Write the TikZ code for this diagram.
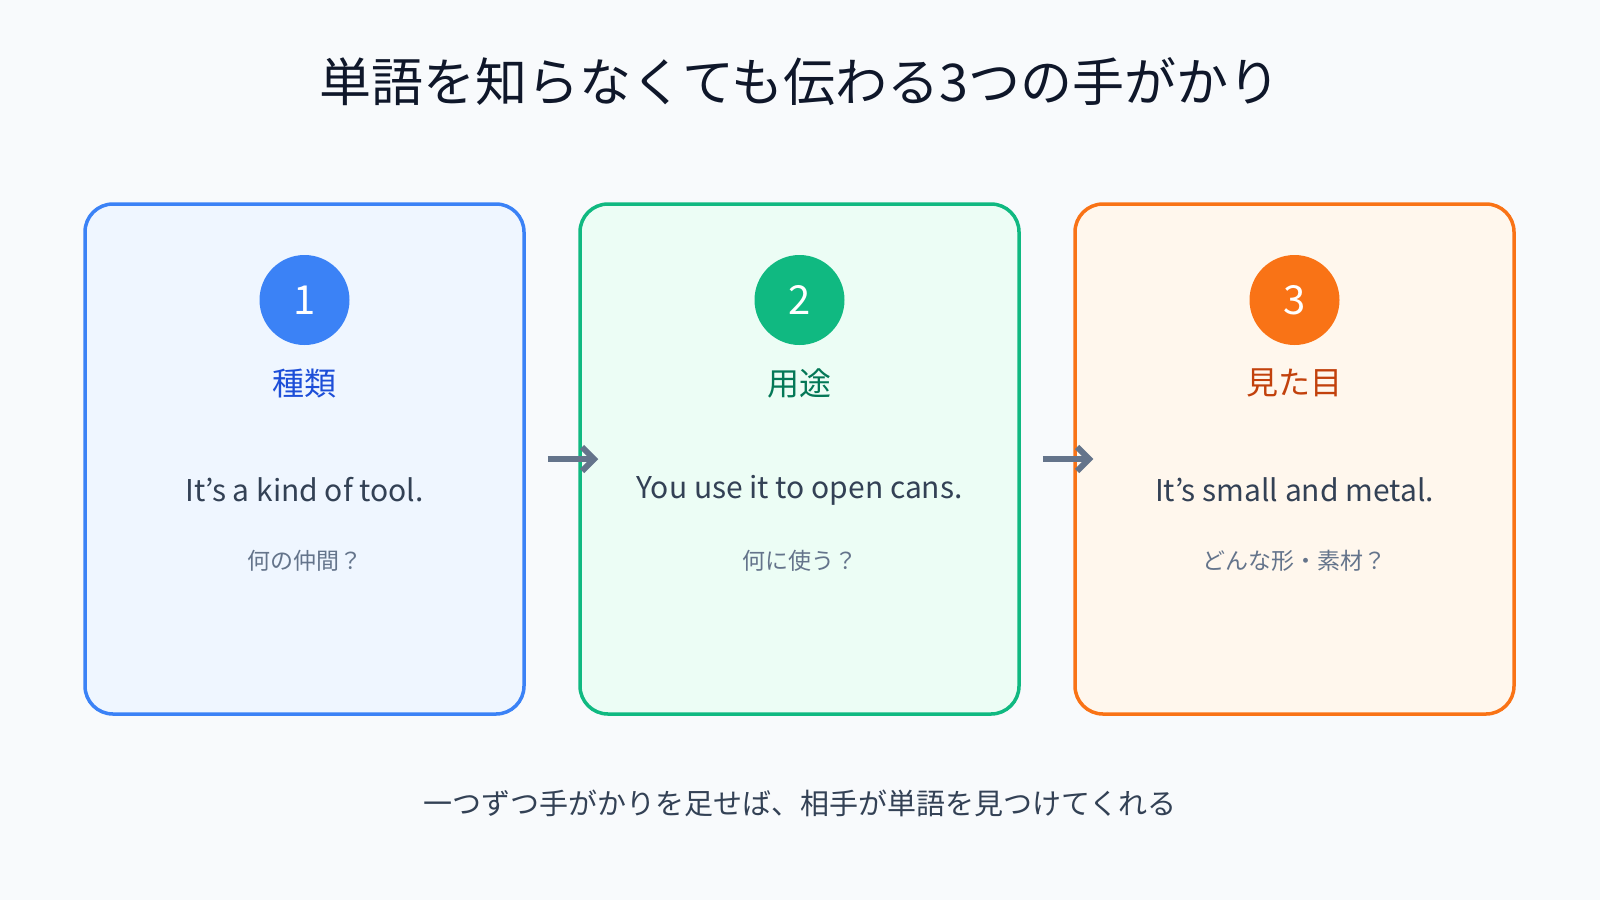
\documentclass[tikz,border=0pt]{standalone}
\usepackage{fontspec}
\setmainfont{Noto Sans CJK JP}
\usetikzlibrary{arrows.meta}
\usetikzlibrary{positioning}
\definecolor{bg}{HTML}{F8FAFC}
\definecolor{ink}{HTML}{0F172A}
\definecolor{body}{HTML}{334155}
\definecolor{mute}{HTML}{64748B}
\definecolor{blueL}{HTML}{3B82F6}\definecolor{blueF}{HTML}{EFF6FF}\definecolor{blueD}{HTML}{1D4ED8}
\definecolor{grnL}{HTML}{10B981}\definecolor{grnF}{HTML}{ECFDF5}\definecolor{grnD}{HTML}{047857}
\definecolor{orgL}{HTML}{F97316}\definecolor{orgF}{HTML}{FFF7ED}\definecolor{orgD}{HTML}{C2410C}
\tikzset{
	card/.style={draw=#1L,fill=#1F,line width=1.75pt,rounded corners=14pt,minimum width=219.5pt,minimum height=255pt},
	badge/.style={circle,fill=#1L,minimum size=45pt,inner sep=0pt,text=white,font=\fontsize{20}{20}\selectfont},
	head/.style={text=#1D,font=\fontsize{16}{16}\selectfont},
	eng/.style={text=body,font=\fontsize{15}{15}\selectfont},
	hint/.style={text=mute,font=\fontsize{11.5}{12}\selectfont},
	flow/.style={draw=mute,line width=3pt,-{Straight Barb[length=6pt,width=12pt]}},
}
\begin{document}
\begin{tikzpicture}[x=0.5pt,y=-0.5pt]
	\fill[bg] (0,0) rectangle (1600,900);
	\useasboundingbox (0,0) rectangle (1600,900);
	\node[text=ink,font=\fontsize{26}{26}\selectfont] (title) at (800,82) {単語を知らなくても伝わる3つの手がかり};
	\node[card=blue] (b1) at (304.5,459) {};
	\node[card=grn] (b2) at (799.5,459) {};
	\node[card=org] (b3) at (1294.5,459) {};
	\node[badge=blue] (c1) at (304.5,300) {1};
	\node[badge=grn] (c2) at (799.5,300) {2};
	\node[badge=org] (c3) at (1294.5,300) {3};
	\node[head=blue,below=8pt of c1] (h1) {種類};
	\node[head=grn,below=8pt of c2] (h2) {用途};
	\node[head=org,below=8pt of c3] (h3) {見た目};
	\node[eng] (e1) at (304.5,490) {It’s a kind of tool.};
	\node[eng] (e2) at (799.5,490) {You use it to open cans.};
	\node[eng] (e3) at (1294.5,490) {It’s small and metal.};
	\node[hint] (q1) at (304.5,561) {何の仲間？};
	\node[hint] (q2) at (799.5,561) {何に使う？};
	\node[hint] (q3) at (1294.5,561) {どんな形・素材？};
	\draw[flow,shorten <=11,shorten >=-10] (b1.east) -- (b2.west);
	\draw[flow,shorten <=11,shorten >=-10] (b2.east) -- (b3.west);
	\node[text=body,font=\fontsize{14.5}{15}\selectfont] (foot) at (800,803) {一つずつ手がかりを足せば、相手が単語を見つけてくれる};
\end{tikzpicture}
\end{document}
